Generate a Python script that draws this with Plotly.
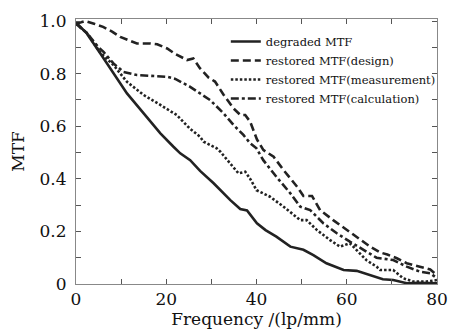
import plotly.graph_objects as go

freq_degraded = [0, 2.4, 5.4, 8.3, 11.3, 15, 18.7, 21.6, 23.1, 25.3, 27.5, 30.5, 34.2, 36.4, 37.9, 40.1, 42, 44.4,
                 47.5, 50.4, 52.6, 55.5, 59.3, 62.2, 65, 68, 70.3, 73.3, 76, 78, 80]
mtf_degraded = [0.995, 0.953, 0.877, 0.80, 0.725, 0.649, 0.573, 0.522, 0.497, 0.471, 0.43, 0.383, 0.319, 0.285, 0.28,
                0.231, 0.205, 0.18, 0.142, 0.13, 0.11, 0.079, 0.053, 0.05, 0.034, 0.018, 0.015, 0.003, 0.005, 0.003, 0.003]

freq_design = [0, 2, 4, 6, 8, 9.8, 12, 13.5, 16.5, 18, 20.2, 22, 24.6, 26, 27.5, 29.4, 30.8, 32.7, 34.9, 36.4, 37.5,
               38.6, 40.1, 41.5, 43.8, 46, 49, 50.4, 52.3, 54.1, 57, 60, 62.2, 65.2, 67.4, 69, 71.1, 73.3, 76.2, 78.5, 80]
mtf_design = [0.99, 1.0, 0.99, 0.978, 0.96, 0.94, 0.925, 0.915, 0.915, 0.912, 0.896, 0.875, 0.852, 0.858, 0.82, 0.785,
              0.77, 0.72, 0.668, 0.643, 0.643, 0.617, 0.55, 0.51, 0.484, 0.433, 0.37, 0.335, 0.335, 0.281, 0.243, 0.205,
              0.18, 0.142, 0.12, 0.112, 0.098, 0.079, 0.066, 0.055, 0.034]

freq_meas = [0, 2.4, 5.4, 8.3, 11.3, 15, 18.7, 22.3, 25.3, 27.5, 28.3, 31.2, 32, 34.2, 36, 37.5, 38.6, 40, 43, 46,
             49.7, 51.1, 53.4, 56.3, 58.5, 60.7, 62.9, 64.4, 66.6, 67.4, 70.3, 72.5, 74.8, 77.7, 80]
mtf_meas = [0.99, 0.955, 0.88, 0.833, 0.769, 0.719, 0.681, 0.643, 0.59, 0.56, 0.541, 0.516, 0.503, 0.459, 0.421,
            0.427, 0.40, 0.357, 0.332, 0.294, 0.243, 0.243, 0.205, 0.167, 0.142, 0.155, 0.117, 0.09, 0.066, 0.053,
            0.053, 0.022, 0.009, 0.009, 0.015]

freq_calc = [0, 2.4, 5, 6.1, 8.3, 10.5, 13.5, 16.5, 20.2, 22, 23.8, 25.3, 27.5, 29.7, 32.7, 34.9, 37.1, 38.6, 40,
             41.5, 44.4, 47.5, 49.7, 51.9, 54.8, 57.8, 60.7, 63.7, 66.6, 70.3, 73.3, 76.2, 78.5, 80]
mtf_calc = [0.99, 0.955, 0.90, 0.883, 0.839, 0.807, 0.795, 0.791, 0.788, 0.78, 0.763, 0.75, 0.725, 0.70, 0.649,
            0.605, 0.567, 0.535, 0.516, 0.471, 0.408, 0.345, 0.294, 0.281, 0.231, 0.193, 0.161, 0.129, 0.10, 0.091,
            0.066, 0.047, 0.041, 0.022]

x_ticks = [0, 20, 40, 60, 80]
y_ticks = [0, 0.2, 0.4, 0.6, 0.8, 1.0]
y_tick_labels = ["0", "0.2", "0.4", "0.6", "0.8", "1.0"]

FONT = "DejaVu Serif"
C = "#222222"

fig = go.Figure()
fig.add_trace(go.Scatter(x=freq_degraded, y=mtf_degraded, mode="lines", name="degraded MTF",
                         line=dict(color=C, width=2.6, dash="solid")))
fig.add_trace(go.Scatter(x=freq_design, y=mtf_design, mode="lines", name="restored MTF(design)",
                         line=dict(color=C, width=2.6, dash="8px,4px")))
fig.add_trace(go.Scatter(x=freq_meas, y=mtf_meas, mode="lines", name="restored MTF(measurement)",
                         line=dict(color=C, width=2.6, dash="2.5px,2px")))
fig.add_trace(go.Scatter(x=freq_calc, y=mtf_calc, mode="lines", name="restored MTF(calculation)",
                         line=dict(color=C, width=2.6, dash="8px,3px,3px,3px")))

axis_common = dict(showline=True, linecolor="#888888", linewidth=1, mirror="ticks", ticks="inside",
                   ticklen=5, tickcolor="#555555", showgrid=False, zeroline=False, automargin=False,
                   tickfont=dict(family=FONT, size=17, color="#111111"))

fig.update_xaxes(range=[0, 80], tickvals=x_ticks, ticktext=[str(v) for v in x_ticks],
                 minor=dict(ticks="inside", ticklen=5, dtick=10, tick0=0, tickcolor="#555555"),
                 title=dict(text="Frequency /(lp/mm)", font=dict(family=FONT, size=17, color="#111111"), standoff=0),
                 **axis_common)
fig.update_yaxes(range=[0, 1.008], tickvals=y_ticks, ticktext=y_tick_labels, ticklabelstandoff=5,
                 minor=dict(ticks="inside", ticklen=5, dtick=0.1, tick0=0, tickcolor="#555555"),
                 title=dict(text="MTF", font=dict(family=FONT, size=17, color="#111111"), standoff=10),
                 **axis_common)

fig.update_layout(
    width=453, height=330,
    margin=dict(l=76, r=16, t=19, b=46, autoexpand=False),
    paper_bgcolor="white", plot_bgcolor="white",
    showlegend=True,
    legend=dict(x=0.415, y=0.97, xanchor="left", yanchor="top", bgcolor="rgba(0,0,0,0)",
                font=dict(family=FONT, size=11.5, color="#111111"), tracegroupgap=0, itemwidth=30),
)

fig.write_html("out.html", config={"displayModeBar": False},
               post_script="document.body.style.margin='0';document.body.style.overflow='hidden';")
